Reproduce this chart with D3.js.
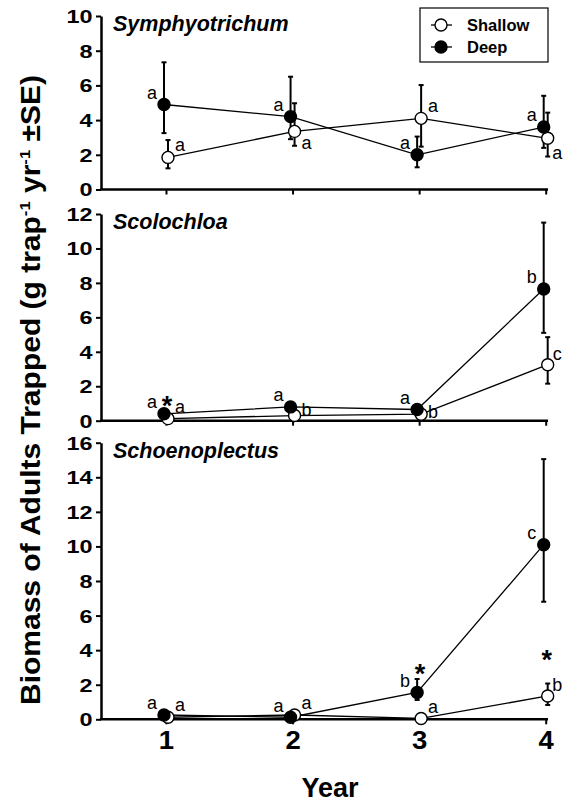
<!DOCTYPE html>
<html>
<head>
<meta charset="utf-8">
<script src="https://cdn.jsdelivr.net/npm/d3@7"></script>
<style>
body { margin: 0; background: #fff; }
text { font-family: Arial, "Liberation Sans", sans-serif; fill: #000; }
</style>
</head>
<body>
<script>
var width = 563,
    height = 804;

// ---- data ----
var years = [1, 2, 3, 4];
var panelNames = ["Symphyotrichum", "Scolochloa", "Schoenoplectus"];
var yMax = [10, 12, 16];
var yTicks = [[0, 2, 4, 6, 8, 10], [0, 2, 4, 6, 8, 10, 12], [0, 2, 4, 6, 8, 10, 12, 14, 16]];

var deepMean = [[4.9, 4.2, 2.0, 3.6], [0.4, 0.8, 0.65, 7.65], [0.25, 0.12, 1.55, 10.1]];
var deepHi   = [[7.33, 6.5, 3.05, 5.4], [0.5, 1.05, 0.75, 11.5], [0.3, 0.15, 2.33, 15.05]];
var deepLo   = [[3.25, 2.9, 1.28, 2.4], [0.3, 0.6, 0.55, 5.1], [0.2, 0.1, 1.12, 6.8]];

var shallowMean = [[1.85, 3.35, 4.1, 2.95], [0.12, 0.3, 0.38, 3.25], [0.12, 0.25, 0.05, 1.35]];
var shallowHi   = [[2.85, 4.97, 6.02, 4.43], [0.15, 0.35, 0.45, 4.85], [0.15, 0.3, 0.07, 2.07]];
var shallowLo   = [[1.22, 2.52, 2.47, 1.9], [0.08, 0.25, 0.3, 2.15], [0.1, 0.2, 0.03, 0.83]];

var deepLetters    = [["a", "a", "a", "a"], ["a", "a", "a", "b"], ["a", "a", "b", "c"]];
var shallowLetters = [["a", "a", "a", "a"], ["a", "b", "b", "c"], ["a", "a", "a", "b"]];

// significance stars: [panel, year, height in data units]
var stars = [[1, 1, 1.5], [2, 3, 3.3], [2, 4, 4.1]];

// ---- layout ----
var left = 101, right = 548;
var panelTop = [16, 214, 442.7],
    panelBottom = [189.5, 420.7, 719.3];
var shallowShift = 2, deepShift = -2;
var tickStretch = 1.3;
// vertical nudge of the shallow letters (px)
var shallowLabelDy = [[-12, 12, -12, 15], [-11, -5, -2, -10], [-12, -11, -11, -10]];

var x = d3.scaleLinear().domain([0.5, 4]).range([102.7, 545.7]);

var svg = d3.select("body").append("svg")
    .attr("width", width)
    .attr("height", height);

panelNames.forEach(function (name, p) {
  var y = d3.scaleLinear().domain([0, yMax[p]]).range([panelBottom[p], panelTop[p]]);
  var g = svg.append("g");

  // y axis
  var yAxis = g.append("g")
      .attr("transform", "translate(" + left + ",0)")
      .call(d3.axisLeft(y).tickValues(yTicks[p]).tickSize(5).tickPadding(3).tickSizeOuter(0));
  yAxis.attr("font-size", null).attr("font-family", null);
  yAxis.select(".domain").attr("stroke-width", 2.5);
  yAxis.selectAll(".tick line").attr("stroke-width", 2);
  yAxis.selectAll(".tick text")
      .style("font-size", "18px").style("font-weight", "bold")
      .attr("x", -8.5 / tickStretch)
      .attr("transform", "scale(" + tickStretch + ",1)")
      .attr("dy", "0.36em");

  // x axis
  var xAxis = g.append("g")
      .attr("transform", "translate(0," + panelBottom[p] + ")")
      .call(d3.axisBottom(x).tickValues(years).tickSize(5).tickSizeOuter(0)
            .tickFormat(p === 2 ? d3.format("d") : ""));
  xAxis.attr("font-size", null).attr("font-family", null);
  xAxis.select(".domain").attr("d", "M" + (left - 1) + ",0H" + right).attr("stroke-width", 2.5);
  xAxis.selectAll(".tick line").attr("stroke-width", 2);
  xAxis.selectAll(".tick text")
      .style("font-size", "25px").style("font-weight", "bold")
      .attr("transform", "scale(1.1,1)")
      .attr("y", 12).attr("dy", "0.71em");

  // panel title
  g.append("text")
      .attr("x", 113)
      .attr("y", panelTop[p] + 15)
      .style("font-size", "21.5px").style("font-weight", "bold").style("font-style", "italic")
      .text(name);

  var series = [
    {mean: shallowMean[p], hi: shallowHi[p], lo: shallowLo[p], shift: shallowShift, fill: "#fff", letters: shallowLetters[p]},
    {mean: deepMean[p], hi: deepHi[p], lo: deepLo[p], shift: deepShift, fill: "#000", letters: deepLetters[p]}
  ];

  var line = d3.line()
      .x(function (d) { return d.x; })
      .y(function (d) { return d.y; });

  series.forEach(function (s) {
    var pts = years.map(function (yr, i) {
      return {x: x(yr) + s.shift, y: y(s.mean[i]), hi: y(s.hi[i]), lo: y(s.lo[i]), letter: s.letters[i], i: i};
    });
    s.pts = pts;
    g.append("path").datum(pts)
        .attr("d", line)
        .attr("fill", "none").attr("stroke", "#000").attr("stroke-width", 1.3);
  });

  // error bars
  series.forEach(function (s) {
    var eb = g.selectAll(null).data(s.pts).enter().append("g");
    eb.append("line")
        .attr("x1", function (d) { return d.x; }).attr("x2", function (d) { return d.x; })
        .attr("y1", function (d) { return d.lo; }).attr("y2", function (d) { return d.hi; })
        .attr("stroke", "#000").attr("stroke-width", 2);
    eb.selectAll(null).data(function (d) { return [[d.x, d.hi], [d.x, d.lo]]; }).enter()
      .append("line")
        .attr("x1", function (d) { return d[0] - 2.5; }).attr("x2", function (d) { return d[0] + 2.5; })
        .attr("y1", function (d) { return d[1]; }).attr("y2", function (d) { return d[1]; })
        .attr("stroke", "#000").attr("stroke-width", 2);
  });

  // markers
  series.forEach(function (s) {
    g.selectAll(null).data(s.pts).enter().append("circle")
        .attr("cx", function (d) { return d.x; })
        .attr("cy", function (d) { return d.y; })
        .attr("r", 6)
        .attr("fill", s.fill)
        .attr("stroke", "#000").attr("stroke-width", 1.4);
  });

  // letters
  g.selectAll(null).data(series[1].pts).enter().append("text")
      .attr("x", function (d) { return d.x - 12; })
      .attr("y", function (d) { return d.y - 11; })
      .attr("text-anchor", "middle").attr("dy", "0.3em")
      .style("font-size", "18px")
      .text(function (d) { return d.letter; });
  g.selectAll(null).data(series[0].pts).enter().append("text")
      .attr("x", function (d) { return d.x + (d.i === 3 ? 9.5 : 12); })
      .attr("y", function (d) { return d.y + shallowLabelDy[p][d.i]; })
      .attr("text-anchor", "middle").attr("dy", "0.3em")
      .style("font-size", "18px")
      .text(function (d) { return d.letter; });

  // stars
  g.selectAll(null).data(stars.filter(function (s) { return s[0] === p; })).enter().append("text")
      .attr("x", function (d) { return x(d[1]) + 1; })
      .attr("y", function (d) { return y(d[2]); })
      .attr("text-anchor", "middle").attr("dy", "0.75em")
      .style("font-size", "27px").style("font-weight", "bold")
      .text("*");
});

// legend
var legend = svg.append("g");
legend.append("rect")
    .attr("x", 420).attr("y", 8).attr("width", 128).attr("height", 54)
    .attr("fill", "#fff").attr("stroke", "#000").attr("stroke-width", 1.2);
var legendItems = [{label: "Shallow", fill: "#fff"}, {label: "Deep", fill: "#000"}];
var li = legend.selectAll(null).data(legendItems).enter().append("g")
    .attr("transform", function (d, i) { return "translate(0," + (25 + i * 22) + ")"; });
li.append("line").attr("x1", 431).attr("x2", 452).attr("stroke", "#000").attr("stroke-width", 1.3);
li.append("circle").attr("cx", 441).attr("r", 6)
    .attr("fill", function (d) { return d.fill; }).attr("stroke", "#000").attr("stroke-width", 1.4);
li.append("text").attr("x", 467).attr("dy", "0.36em")
    .style("font-size", "16.5px").style("font-weight", "bold")
    .text(function (d) { return d.label; });

// axis titles
svg.append("text")
    .attr("x", 330).attr("y", 797)
    .attr("text-anchor", "middle")
    .style("font-size", "27px").style("font-weight", "bold")
    .text("Year");

var yTitle = svg.append("text")
    .attr("transform", "translate(40,390) rotate(-90)")
    .attr("text-anchor", "middle")
    .attr("textLength", 630).attr("lengthAdjust", "spacingAndGlyphs")
    .style("font-size", "27px").style("font-weight", "bold");
yTitle.append("tspan").text("Biomass of Adults Trapped (g trap");
yTitle.append("tspan").attr("dy", -10).style("font-size", "15px").text("-1");
yTitle.append("tspan").attr("dy", 10).text(" yr");
yTitle.append("tspan").attr("dy", -10).style("font-size", "15px").text("-1");
yTitle.append("tspan").attr("dy", 10).text(" \u00b1SE)");
</script>
</body>
</html>
